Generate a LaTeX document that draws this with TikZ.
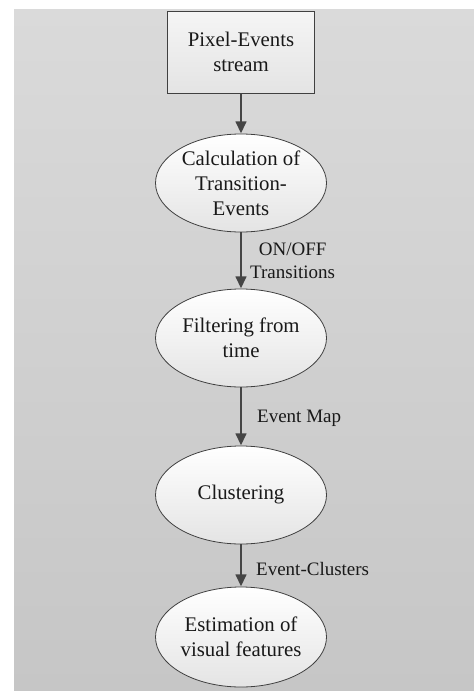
\documentclass[tikz,border=0pt]{standalone}
\usepackage{fontspec}
\setmainfont{Liberation Serif}
\usetikzlibrary{arrows.meta,shapes.geometric}
\definecolor{bgtop}{HTML}{DADADA}
\definecolor{bgbot}{HTML}{C6C6C6}
\definecolor{arr}{HTML}{454545}
\definecolor{nodebot}{HTML}{E4E4E4}
\tikzset{
  txt/.style={align=center, inner sep=0pt, text=black!90, font=\fontsize{20.8}{25}\selectfont},
  lbl/.style={align=center, inner sep=0pt, anchor=west, text=black!90, font=\fontsize{19}{23}\selectfont},
  procbox/.style={rectangle, draw=black!75, line width=0.8pt, top color=white!96!black, bottom color=nodebot, minimum width=147pt, minimum height=82pt, inner sep=0pt},
  proc/.style={ellipse, draw=black!75, line width=0.8pt, top color=white, bottom color=nodebot, minimum width=171pt, minimum height=98pt, inner sep=0pt},
  flow/.style={draw=arr, line width=1.5pt, -{Triangle[length=12pt,width=11pt]}, shorten >=0.3pt}
}
\begin{document}
\begin{tikzpicture}[x=1pt,y=-1pt]
\useasboundingbox (0,0) rectangle (474,691);
\fill[top color=bgtop, bottom color=bgbot] (14,9) rectangle (474,691);

\node[procbox, label={[txt]center:Pixel-Events\\stream}] (src) at (241,52) {};
\node[proc, label={[txt]center:Calculation of\\Transition-\\Events}] (calc) at (241,183) {};
\node[proc, label={[txt]center:Filtering from\\time}] (filt) at (241,338) {};
\node[proc, label={[txt]center:Clustering}] (clus) at (241,495) {};
\node[proc, minimum height=100pt, label={[txt]center:Estimation of\\visual features}] (est) at (241,637) {};

\draw[flow] (src) -- (calc);
\draw[flow] (calc) -- (filt);
\draw[flow] (filt) -- (clus);
\draw[flow] (clus) -- (est);

\node[lbl] (l1) at (250,261) {ON/OFF\\Transitions};
\node[lbl] (l2) at (257,418) {Event Map};
\node[lbl] (l3) at (256,569) {Event-Clusters};
\end{tikzpicture}
\end{document}
